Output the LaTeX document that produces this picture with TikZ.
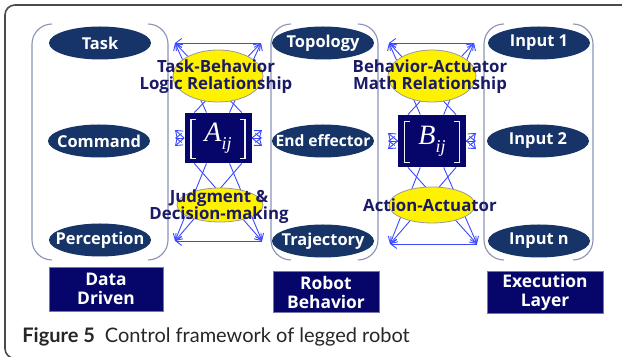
\documentclass[tikz,border=0pt]{standalone}
\usepackage{fontspec}
\setmainfont{Open Sans}
\newfontfamily\capfont{Lato}
\newfontfamily\matfont{Liberation Serif}
\usetikzlibrary{arrows.meta, shapes.geometric, calc, backgrounds}

\definecolor{ovalnavy}{HTML}{163468}
\definecolor{boxnavy}{HTML}{06066A}
\definecolor{reltextblue}{HTML}{1A1A66}
\definecolor{linkblue}{HTML}{3A48FF}
\definecolor{parengray}{HTML}{8A93B5}
\definecolor{framegray}{HTML}{4A4A4A}

\tikzset{
  ovaltext/.style={
    inner sep=0pt, text=white,
    font=\fontsize{8.2}{10}\selectfont\bfseries
  },
  oval/.style={
    ellipse, minimum width=51pt, minimum height=16.5pt, inner sep=0pt,
    fill=ovalnavy, label={[ovaltext]center:#1}
  },
  layerbox/.style={
    rectangle, minimum width=57pt, minimum height=21pt, inner sep=0pt,
    fill=boxnavy, draw=boxnavy!55!white, line width=0.4pt,
    text=white, align=center,
    font=\fontsize{8.7}{9.5}\selectfont\bfseries
  },
  relnode/.style={
    ellipse, inner sep=0pt,
    fill=yellow, draw=gray!80, line width=0.4pt
  },
  reltext/.style={
    align=center, inner sep=0pt, text=reltextblue,
    font=\fontsize{8.4}{8.5}\selectfont\bfseries
  },
  matbox/.style={
    rectangle, minimum width=33.5pt, minimum height=25pt, inner sep=0pt,
    fill=boxnavy, text=white, font=\matfont\fontsize{14}{14}\selectfont\itshape
  },
  matbracket/.style={draw=white!88!gray, line width=0.7pt},
  linkarrow/.style={
    draw=linkblue, line width=0.45pt,
    -{Straight Barb[length=3pt,width=4.5pt]}
  },
  parenline/.style={draw=parengray, line width=0.55pt, rounded corners=10pt},
  frameline/.style={draw=framegray, line width=0.8pt, rounded corners=5pt},
}

\begin{document}
\begin{tikzpicture}[x=0.5pt, y=-0.5pt]
  \useasboundingbox (0,0) rectangle (622,357);
  \draw[frameline] (640,5) -- (5,5) -- (5,358.5) -- (640,358.5);

  % layer columns
  \node[oval=Task]       (task)       at (100,43)  {};
  \node[oval=Command]    (command)    at (99,141)  {};
  \node[oval=Perception] (perception) at (100,240) {};
  \node[oval=Topology]   (topology)   at (323,43)  {};
  \node[oval={\fontsize{7.8}{10}\selectfont End effector}] (endeff) at (323,141) {};
  \node[oval=Trajectory] (trajectory) at (323,241) {};
  \node[oval=Input 1]    (input1)     at (539,43)  {};
  \node[oval=Input 2]    (input2)     at (538,141) {};
  \node[oval=Input n]    (inputn)     at (539,241) {};

  \node[layerbox, minimum height=22pt] (datadriven) at (106,289) {Data\\Driven};
  \node[layerbox, minimum width=53pt, minimum height=20.5pt] (robotbeh) at (326,292) {Robot\\Behavior};
  \node[layerbox, minimum width=58pt] (execlayer) at (545,292) {Execution\\Layer};

  % relation modules
  \node[relnode, minimum width=45pt, minimum height=26pt] (a-top) at (218,76) {};
  \node[reltext] (a-toptext) at (216,77) {Task-Behavior\\Logic Relationship};
  \node[matbox] (a-mat) at (218,138) {A\raisebox{-4pt}{\fontsize{9}{9}\selectfont ij}};
  \node[relnode, minimum width=43pt, minimum height=17pt] (a-bot) at (220,205) {};
  \node[reltext] (a-bottext) at (219,207) {Judgment \&\\Decision-making};

  \node[relnode, minimum width=44pt, minimum height=26pt] (b-top) at (432,76) {};
  \node[reltext] (b-toptext) at (430,77) {Behavior-Actuator\\Math Relationship};
  \node[matbox, minimum width=34pt, minimum height=26pt] (b-mat) at (432,141) {B\raisebox{-4pt}{\fontsize{9}{9}\selectfont ij}};
  \node[relnode, minimum width=43pt, minimum height=18pt] (b-bot) at (432,205) {};
  \node[reltext] (b-bottext) at (430,205) {Action-Actuator};

  \coordinate (a-tl) at (175,43);  \coordinate (a-tr) at (261,43);
  \coordinate (a-bl) at (175,241); \coordinate (a-br) at (262,241);
  \coordinate (a-ml) at (175,138); \coordinate (a-mr) at (262,138);
  \coordinate (b-tl) at (389,43);  \coordinate (b-tr) at (474,43);
  \coordinate (b-bl) at (390,244); \coordinate (b-br) at (477,244);
  \coordinate (b-ml) at (388,141); \coordinate (b-mr) at (476,141);

  \foreach \m in {a,b}{
    % matrix brackets
    \draw[matbracket] ($(\m-mat.north west)+(12,7)$) -- ($(\m-mat.north west)+(7,7)$)
      -- ($(\m-mat.south west)+(7,-5)$) -- ($(\m-mat.south west)+(12,-5)$);
    \draw[matbracket] ($(\m-mat.north east)+(-12,7)$) -- ($(\m-mat.north east)+(-7,7)$)
      -- ($(\m-mat.south east)+(-7,-5)$) -- ($(\m-mat.south east)+(-12,-5)$);
  }

  \begin{scope}[on background layer]
    \draw[parenline] (52,24) -- (32,24) -- (32,260) -- (52,260);
    \draw[parenline] (148,24) -- (168,24) -- (168,260) -- (148,260);
    \draw[parenline] (291,24) -- (271,24) -- (271,260) -- (291,260);
    \draw[parenline] (358,24) -- (378,24) -- (378,260) -- (358,260);
    \draw[parenline] (504,24) -- (484,24) -- (484,260) -- (504,260);
    \draw[parenline] (573,24) -- (593,24) -- (593,260) -- (573,260);

    \foreach \m in {a,b}{
      \draw[linkarrow, {Straight Barb[length=3pt,width=4.5pt]}-] (\m-tl) -- (\m-tr);
      \draw[linkarrow, {Straight Barb[length=3pt,width=4.5pt]}-] (\m-bl) -- (\m-br);
      % up to the top corners
      \draw[linkarrow] ($(\m-mat.north west)!0.15!(\m-mat.north east)$) -- (\m-tr);
      \draw[linkarrow] ($(\m-mat.north west)!0.33!(\m-mat.north east)$) -- (\m-tl);
      \draw[linkarrow] ($(\m-mat.north west)!0.67!(\m-mat.north east)$) -- (\m-tr);
      \draw[linkarrow] ($(\m-mat.north west)!0.85!(\m-mat.north east)$) -- (\m-tl);
      % down to the bottom corners
      \draw[linkarrow] ($(\m-mat.south west)!0.15!(\m-mat.south east)$) -- (\m-br);
      \draw[linkarrow] ($(\m-mat.south west)!0.33!(\m-mat.south east)$) -- (\m-bl);
      \draw[linkarrow] ($(\m-mat.south west)!0.67!(\m-mat.south east)$) -- (\m-br);
      \draw[linkarrow] ($(\m-mat.south west)!0.85!(\m-mat.south east)$) -- (\m-bl);
      % sideways
      \draw[linkarrow] (\m-mat.west) -- ($(\m-ml)+(0,-8)$);
      \draw[linkarrow] (\m-mat.west) -- (\m-ml);
      \draw[linkarrow] (\m-mat.west) -- ($(\m-ml)+(0,8)$);
      \draw[linkarrow] (\m-mat.east) -- ($(\m-mr)+(0,-8)$);
      \draw[linkarrow] (\m-mat.east) -- (\m-mr);
      \draw[linkarrow] (\m-mat.east) -- ($(\m-mr)+(0,8)$);
    }
  \end{scope}

  \node[anchor=base west, inner sep=0pt, text=black!85,
        font=\capfont\fontsize{10}{12}\selectfont] (caption) at (22,343)
        {\textbf{Figure 5}\hspace{0.5em}Control framework of legged robot};
\end{tikzpicture}
\end{document}
